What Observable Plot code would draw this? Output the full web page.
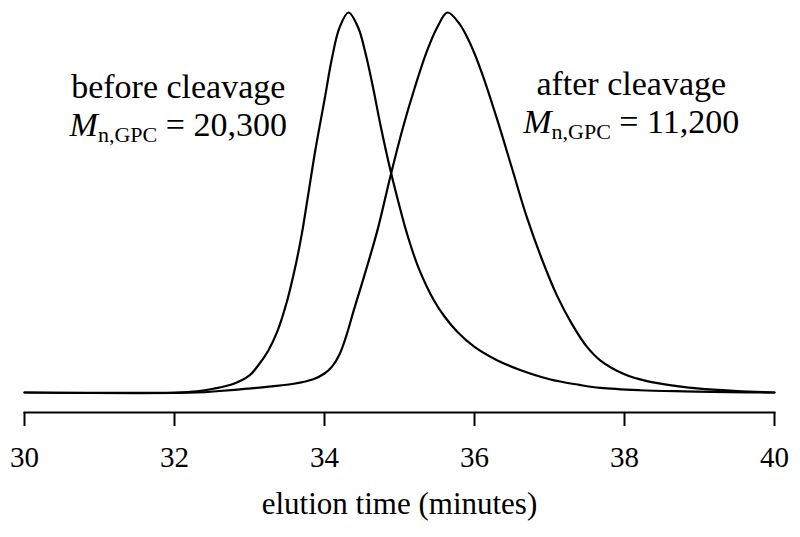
<!DOCTYPE html>
<html>
<head>
<meta charset="utf-8">
<script src="https://cdn.jsdelivr.net/npm/d3@7"></script>
<script src="https://cdn.jsdelivr.net/npm/@observablehq/plot@0.6"></script>
<style>
  html, body { margin: 0; padding: 0; background: #fff; }
  svg { display: block; }
</style>
</head>
<body>
<div id="chart"></div>
<script>
// ---- data ----
const beforeTime   = [30.0, 32.0, 32.3, 32.52, 32.79, 33.0, 33.10, 33.25, 33.37, 33.5, 33.61, 33.70, 33.77, 33.88, 34.0, 34.10, 34.2, 34.32, 34.45, 34.55, 34.65, 34.75, 34.88, 35.0, 35.10, 35.25, 35.46, 35.6, 35.77, 36.0, 36.3, 36.6, 37.0, 37.4, 37.68, 38.2, 38.8, 39.4, 40.0];
const beforeSignal = [0,    0,    0.003, 0.010, 0.023, 0.045, 0.067, 0.11, 0.16, 0.24, 0.330, 0.42, 0.505, 0.64, 0.77, 0.88, 0.96, 1.0, 0.96, 0.89, 0.80, 0.70, 0.584, 0.49, 0.418, 0.33, 0.242, 0.20, 0.16, 0.12, 0.085, 0.06, 0.035, 0.02, 0.012, 0.006, 0.003, 0.001, 0];

const afterTime    = [30.0, 32.3, 32.6, 32.97, 33.3, 33.59, 33.85, 34.0, 34.1, 34.2, 34.3, 34.39, 34.55, 34.71, 34.88, 35.05, 35.2, 35.35, 35.5, 35.64, 35.8, 35.95, 36.1, 36.3, 36.5, 36.7, 36.9, 37.1, 37.3, 37.5, 37.68, 38.0, 38.3, 38.7, 39.0, 39.5, 40.0];
const afterSignal  = [0,    0,    0.004, 0.010, 0.016, 0.023, 0.035, 0.05, 0.068, 0.10, 0.155, 0.216, 0.32, 0.43, 0.57, 0.70, 0.80, 0.89, 0.96, 1.0, 0.97, 0.915, 0.84, 0.72, 0.59, 0.46, 0.35, 0.255, 0.18, 0.12, 0.084, 0.048, 0.03, 0.017, 0.01, 0.004, 0];

const xTicks = [30, 32, 34, 36, 38, 40];
const xLabel = "elution time (minutes)";
const seriesNames = ["before cleavage", "after cleavage"];
const mnValues = ["20,300", "11,200"];

// annotation anchors in data units (time, normalized signal)
const labelTime  = [32.05, 38.09];
const labelLine1 = [0.776, 0.784];
const labelLine2 = [0.676, 0.684];

// ---- build tables ----
const before = beforeTime.map((t, i) => ({t, v: beforeSignal[i]}));
const after  = afterTime.map((t, i) => ({t, v: afterSignal[i]}));
const notes1 = seriesNames.map((s, i) => ({t: labelTime[i], v: labelLine1[i], text: s}));
const notes2 = mnValues.map((m, i) => ({t: labelTime[i], v: labelLine2[i], text: "Mn,GPC = " + m}));

const yMin = -0.0526;
const font = "'Liberation Serif', 'Times New Roman', Times, serif";

const svg = Plot.plot({
  width: 800,
  height: 537,
  marginTop: 12,
  marginBottom: 125,
  marginLeft: 24,
  marginRight: 26,
  x: {domain: [30, 40]},
  y: {domain: [yMin, 1], axis: null},
  style: {fontFamily: font, color: "#000", background: "#fff"},
  marks: [
    Plot.line(before, {x: "t", y: "v", stroke: "#000", strokeWidth: 2.2, curve: "catmull-rom"}),
    Plot.line(after,  {x: "t", y: "v", stroke: "#000", strokeWidth: 2.2, curve: "catmull-rom"}),
    Plot.frame({anchor: "bottom", stroke: "#000", strokeWidth: 2}),
    Plot.axisX({ticks: xTicks, tickSize: 14, tickPadding: 20, fontSize: 29, strokeWidth: 2, label: null, tickFormat: d => String(d)}),
    Plot.text([xLabel], {frameAnchor: "bottom", dy: 101, lineAnchor: "bottom", fontSize: 31, fill: "#000"}),
    Plot.text(notes1, {x: "t", y: "v", text: "text", lineAnchor: "bottom", fontSize: 34, fill: "#000"}),
    Plot.text(notes2, {x: "t", y: "v", text: "text", lineAnchor: "bottom", fontSize: 34, fill: "#000"})
  ]
});

// rich text: italic M with subscript n,GPC
d3.select(svg).selectAll("text")
  .filter(function () { return this.textContent.startsWith("Mn,GPC"); })
  .each(function () {
    const rest = this.textContent.slice(6);
    const t = d3.select(this);
    t.text(null);
    t.append("tspan").attr("font-style", "italic").text("M");
    t.append("tspan").attr("font-size", "22px").attr("dy", "6").text("n,GPC");
    t.append("tspan").attr("dy", "-6").text(rest);
  });

document.getElementById("chart").appendChild(svg);
</script>
</body>
</html>
